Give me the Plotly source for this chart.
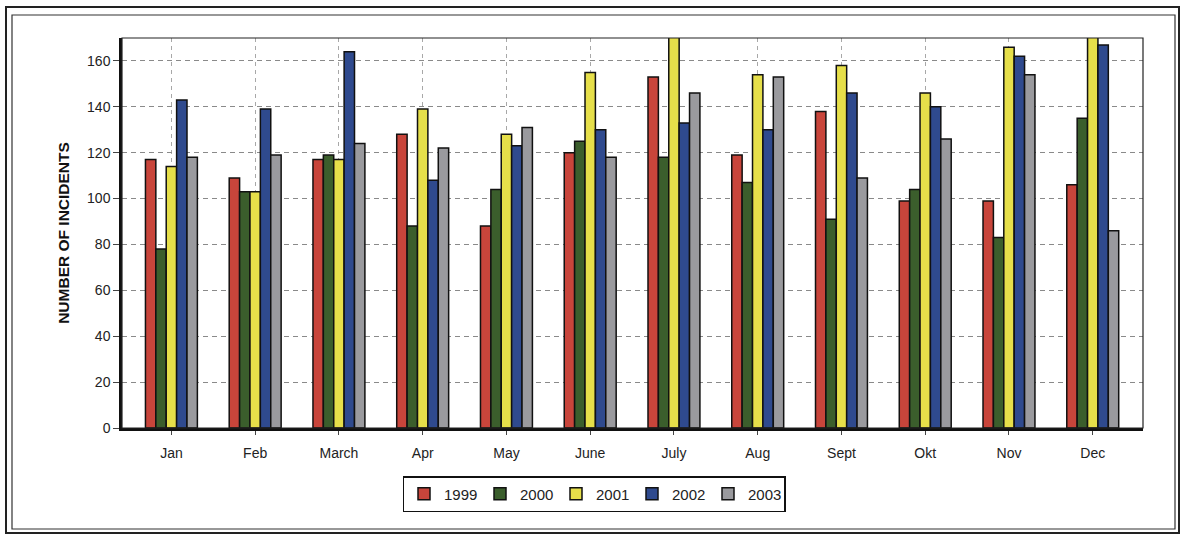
import plotly.graph_objects as go

months = ["Jan", "Feb", "March", "Apr", "May", "June", "July", "Aug", "Sept", "Okt", "Nov", "Dec"]
years = ["1999", "2000", "2001", "2002", "2003"]

v1999 = [117, 109, 117, 128, 88, 120, 153, 119, 138, 99, 99, 106]
v2000 = [78, 103, 119, 88, 104, 125, 118, 107, 91, 104, 83, 135]
v2001 = [114, 103, 117, 139, 128, 155, 172, 154, 158, 146, 166, 172]
v2002 = [143, 139, 164, 108, 123, 130, 133, 130, 146, 140, 162, 167]
v2003 = [118, 119, 124, 122, 131, 118, 146, 153, 109, 126, 154, 86]

series = [v1999, v2000, v2001, v2002, v2003]
colors = ["#c8453b", "#3b5e2c", "#e6df4a", "#2f4a8e", "#9a9a9e"]

yticks = [0, 20, 40, 60, 80, 100, 120, 140, 160]

fig = go.Figure()
for name, vals, col in zip(years, series, colors):
    fig.add_trace(go.Bar(
        x=months, y=vals, name=name,
        marker=dict(color=col, line=dict(color="#111111", width=1.5)),
    ))

L, R, T, B = 122, 44, 38, 112
W, H = 1187, 540
pw = W - L - R
ph = H - T - B

def px(x):
    return (x - L) / pw

def py(y):
    return (H - B - y) / ph

shapes = [
    dict(type="rect", xref="paper", yref="paper", x0=0, y0=0, x1=1, y1=1,
         line=dict(color="#222222", width=1.2), layer="above"),
    dict(type="rect", xref="paper", yref="paper", x0=px(6), y0=py(7), x1=px(1179), y1=py(533),
         line=dict(color="#222222", width=2)),
    dict(type="rect", xref="paper", yref="paper", x0=px(12), y0=py(15), x1=px(1175), y1=py(529),
         line=dict(color="#333333", width=1.2)),
]

fig.update_layout(
    width=W, height=H,
    margin=dict(l=L, r=R, t=T, b=B),
    paper_bgcolor="white", plot_bgcolor="white",
    barmode="group", bargap=0.38, bargroupgap=0,
    font=dict(family="Liberation Sans, Arial", size=14, color="#222222"),
    showlegend=True,
    legend=dict(orientation="h", x=px(594), xanchor="center", y=py(494), yanchor="middle",
                bordercolor="#111111", borderwidth=1.5, bgcolor="white",
                font=dict(size=15), itemwidth=30, tracegroupgap=0,
                entrywidth=31, entrywidthmode="pixels"),
    shapes=shapes,
    xaxis=dict(range=[-0.59, 11.6], showgrid=True, gridcolor="#a8a8a8", griddash="4px,4px", gridwidth=1,
               showline=True, linecolor="#111111", linewidth=2.5,
               ticks="outside", ticklen=4, tickcolor="#444444", tickfont=dict(size=14),
               ticklabelstandoff=6),
    yaxis=dict(range=[0, 170], tickvals=yticks, showgrid=True, gridcolor="#8a8a8a", griddash="5px,4px",
               gridwidth=1, showline=True, linecolor="#111111", linewidth=2.5, zeroline=False,
               ticks="outside", ticklen=6, tickcolor="#444444", tickfont=dict(size=14),
               title=dict(text="<b>NUMBER OF INCIDENTS</b>", font=dict(size=15.5, color="#111111"), standoff=14)),
)

fig.write_html("out.html")
